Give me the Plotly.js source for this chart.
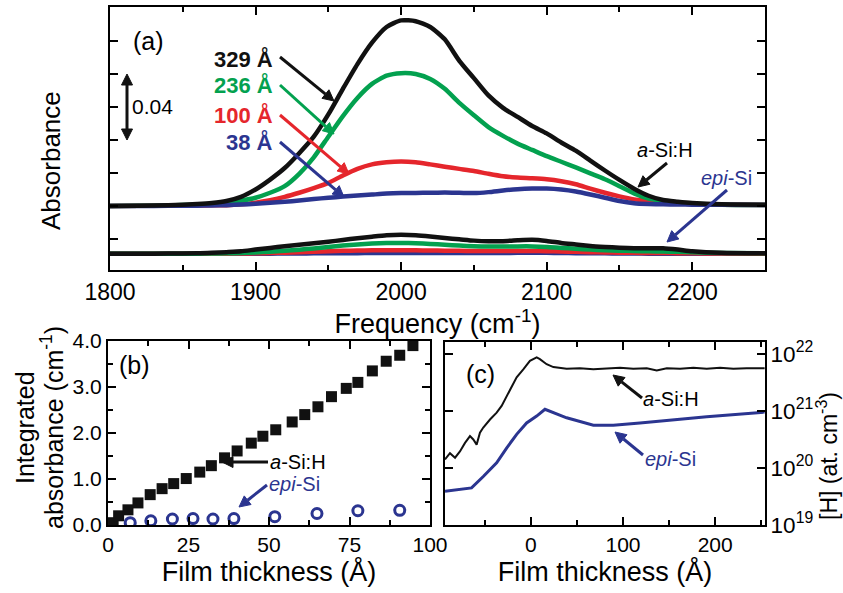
<!DOCTYPE html>
<html>
<head>
<meta charset="utf-8">
<script src="https://cdn.plot.ly/plotly-3.0.1.min.js"></script>
<style>html,body{margin:0;padding:0;background:#fff}#chart{width:843px;height:593px}</style>
</head>
<body>
<div id="chart"></div>
<script>
// ---------- Panel (a): IR absorbance spectra ----------
const freq = [1800,1820,1840,1860,1870,1880,1890,1900,1910,1920,1930,1940,1950,1960,1970,1980,1990,2000,2010,2020,2030,2040,2050,2060,2070,2080,2090,2100,2110,2120,2130,2140,2150,2160,2170,2180,2190,2200,2220,2250];
const thicknessLabels = ['329 Å','236 Å','100 Å','38 Å'];
// a-Si:H (upper set), absorbance above its baseline
const aSi329 = [0,0.0002,0.0005,0.0012,0.0018,0.0030,0.0055,0.0100,0.0160,0.0230,0.0320,0.0420,0.0555,0.0710,0.0860,0.0990,0.1085,0.1125,0.1120,0.1085,0.1010,0.0880,0.0775,0.0670,0.0595,0.0540,0.0485,0.0440,0.0385,0.0335,0.0275,0.0215,0.0158,0.0105,0.0062,0.0036,0.0026,0.0018,0.0010,0.0008];
const aSi236 = [0,0.0001,0.0003,0.0008,0.0012,0.0020,0.0032,0.0050,0.0080,0.0120,0.0195,0.0295,0.0420,0.0545,0.0655,0.0740,0.0790,0.0805,0.0800,0.0770,0.0710,0.0625,0.0550,0.0478,0.0425,0.0378,0.0340,0.0302,0.0268,0.0234,0.0198,0.0162,0.0120,0.0076,0.0045,0.0030,0.0020,0.0014,0.0008,0.0006];
const aSi100 = [0,0.0001,0.0002,0.0003,0.0004,0.0005,0.0010,0.0020,0.0035,0.0055,0.0080,0.0108,0.0140,0.0185,0.0225,0.0252,0.0265,0.0270,0.0265,0.0252,0.0238,0.0225,0.0212,0.0195,0.0180,0.0172,0.0168,0.0162,0.0150,0.0132,0.0105,0.0080,0.0058,0.0040,0.0030,0.0022,0.0016,0.0012,0.0008,0.0006];
const aSi38  = [0,0,0.0001,0.0002,0.0003,0.0005,0.0009,0.0013,0.0019,0.0025,0.0033,0.0042,0.0050,0.0057,0.0063,0.0069,0.0075,0.0078,0.0079,0.0080,0.0081,0.0080,0.0078,0.0084,0.0094,0.0102,0.0106,0.0106,0.0100,0.0088,0.0070,0.0050,0.0030,0.0017,0.0012,0.0010,0.0009,0.0008,0.0007,0.0006];
// epi-Si (lower set), absorbance above its baseline
const epi329 = [0,0,0.0002,0.0003,0.0006,0.0010,0.0015,0.0026,0.0036,0.0046,0.0055,0.0064,0.0073,0.0084,0.0095,0.0104,0.0112,0.0115,0.0112,0.0105,0.0096,0.0088,0.0080,0.0076,0.0077,0.0082,0.0085,0.0078,0.0066,0.0057,0.0048,0.0042,0.0037,0.0034,0.0034,0.0034,0.0026,0.0016,0.0006,0.0003];
const epi236 = [0,0,0,0.0001,0.0002,0.0003,0.0005,0.0008,0.0013,0.0018,0.0025,0.0033,0.0042,0.0050,0.0057,0.0062,0.0065,0.0066,0.0064,0.0060,0.0055,0.0050,0.0046,0.0044,0.0044,0.0045,0.0045,0.0042,0.0036,0.0031,0.0026,0.0022,0.0019,0.0017,0.0015,0.0014,0.0012,0.0009,0.0005,0.0003];
const epi100 = [0,0,0,0,0.0001,0.0001,0.0002,0.0003,0.0005,0.0007,0.0009,0.0012,0.0015,0.0018,0.0020,0.0021,0.0022,0.0022,0.0021,0.0020,0.0019,0.0018,0.0017,0.0017,0.0017,0.0017,0.0017,0.0016,0.0014,0.0012,0.0010,0.0008,0.0007,0.0006,0.0005,0.0005,0.0004,0.0003,0.0002,0.0001];
const epi38  = [0,0,0,0,0,0,0,0.0001,0.0001,0.0002,0.0002,0.0003,0.0003,0.0004,0.0004,0.0005,0.0005,0.0005,0.0005,0.0005,0.0005,0.0005,0.0005,0.0005,0.0005,0.0006,0.0006,0.0006,0.0005,0.0004,0.0003,0.0003,0.0002,0.0002,0.0001,0.0001,0.0001,0.0001,0,0];
const epiOffset = -0.029;   // vertical offset of the epi-Si set

// ---------- Panel (b): integrated absorbance ----------
const thickB_aSi = [1.6,3.3,6.2,9.3,13.1,16.8,20.4,24.3,28.5,32.1,36.2,40.1,44.5,48.1,52.1,57.2,61.1,65.2,69.4,74.0,77.6,82.1,86.4,90.6,94.7];
const intAbs_aSi = [0.05,0.20,0.33,0.48,0.66,0.79,0.90,1.01,1.15,1.29,1.46,1.61,1.78,1.93,2.07,2.24,2.40,2.57,2.79,2.97,3.10,3.35,3.56,3.69,3.90];
const thickB_epi = [6.9,13.3,20.0,26.4,32.6,39.1,51.8,64.9,77.6,90.6];
const intAbs_epi = [0.05,0.09,0.13,0.14,0.13,0.14,0.18,0.25,0.31,0.32];

// ---------- Panel (c): hydrogen depth profile ----------
const thickC_aSi = [-93,-87.6,-82.1,-76.8,-71.3,-65.9,-62.3,-58.7,-55.1,-51.5,-44.2,-37.0,-31.6,-26.2,-20.8,-15.3,-8.1,-0.9,6.4,9.9,17.2,24.5,38.9,53.3,67.9,82.3,96.8,111.2,125.8,136.6,147.5,161.9,176.3,190.8,205.3,219.7,234.1,253.6];
const logH_aSi = [20.15,20.26,20.18,20.29,20.44,20.56,20.50,20.41,20.62,20.71,20.85,20.97,21.09,21.26,21.44,21.59,21.73,21.88,21.94,21.91,21.82,21.77,21.74,21.75,21.73,21.74,21.76,21.74,21.75,21.71,21.75,21.74,21.76,21.74,21.76,21.74,21.75,21.75];
const thickC_epi = [-93,-64.2,-51.5,-37.0,-26.2,-15.3,-4.5,6.4,15.4,38.9,67.9,89.5,118.4,154.6,190.8,253.6];
const logH_epi = [19.59,19.65,19.85,20.09,20.35,20.59,20.79,20.91,21.03,20.88,20.75,20.75,20.79,20.85,20.90,20.98];

const C = {black:'#111111', green:'#03a14f', red:'#e5262c', blue:'#2b3590'};
const FONT = 'Liberation Sans, Arial, Helvetica, sans-serif';
const W = 843, H = 593;
const px = (x) => x / W, py = (y) => 1 - y / H;

const add = (arr, k) => arr.map(v => v + k);
const traces = [];
const lineA = (y, color, name) => ({x: freq, y: y, type:'scatter', mode:'lines', name: name,
  line:{color: color, width: 4.5, shape:'spline', smoothing:0.6}, xaxis:'x', yaxis:'y', showlegend:false, hoverinfo:'skip'});
// lower set (epi-Si)
traces.push(lineA(add(epi38, epiOffset), C.blue, 'epi-Si 38 Å'));
traces.push(lineA(add(epi100, epiOffset), C.red, 'epi-Si 100 Å'));
traces.push(lineA(add(epi236, epiOffset), C.green, 'epi-Si 236 Å'));
traces.push(lineA(add(epi329, epiOffset), C.black, 'epi-Si 329 Å'));
// upper set (a-Si:H)
traces.push(lineA(aSi100, C.red, 'a-Si:H 100 Å'));
traces.push(lineA(aSi236, C.green, 'a-Si:H 236 Å'));
traces.push(lineA(aSi38, C.blue, 'a-Si:H 38 Å'));
traces.push(lineA(aSi329, C.black, 'a-Si:H 329 Å'));

// panel (b)
traces.push({x: thickB_aSi, y: intAbs_aSi, type:'scatter', mode:'markers', xaxis:'x2', yaxis:'y2', showlegend:false,
  marker:{symbol:'square', size:11, color:C.black}, hoverinfo:'skip'});
traces.push({x: thickB_epi, y: intAbs_epi, type:'scatter', mode:'markers', xaxis:'x2', yaxis:'y2', showlegend:false,
  marker:{symbol:'circle-open', size:10, color:C.blue, line:{width:3, color:C.blue}}, hoverinfo:'skip'});

// panel (c)
traces.push({x: thickC_aSi, y: logH_aSi.map(v => Math.pow(10, v)), type:'scatter', mode:'lines', xaxis:'x3', yaxis:'y3', showlegend:false,
  line:{color:C.black, width:2}, hoverinfo:'skip'});
traces.push({x: thickC_epi, y: logH_epi.map(v => Math.pow(10, v)), type:'scatter', mode:'lines', xaxis:'x3', yaxis:'y3', showlegend:false,
  line:{color:C.blue, width:3}, hoverinfo:'skip'});

const axBase = (fs) => ({showline:true, linecolor:'#000', linewidth:2, mirror:'ticks', ticks:'inside', tickcolor:'#000', tickwidth:2,
  ticklen:8, showgrid:false, zeroline:false, tickfont:{family:FONT, size:fs, color:'#000'}, fixedrange:true});
const minorT = (d) => ({ticks:'inside', dtick:d, ticklen:5, tickwidth:2, tickcolor:'#000'});
const titleFont = {family:FONT, size:27, color:'#000'};

const layout = {
  width: W, height: H, margin:{l:0, r:0, t:0, b:0}, paper_bgcolor:'#fff', plot_bgcolor:'#fff',
  font:{family:FONT, color:'#000'},
  xaxis: Object.assign(axBase(23), {domain:[px(110), px(765)], range:[1800, 2250], dtick:100, tick0:1800, anchor:'y',
    minor:minorT(50), title:{text:'Frequency (cm<sup>-1</sup>)', font:titleFont, standoff:0}}),
  yaxis: Object.assign(axBase(23), {domain:[py(270), py(7)], range:[-0.0388, 0.1206], dtick:0.02, tick0:0, showticklabels:false, anchor:'x'}),
  xaxis2: Object.assign(axBase(21), {domain:[px(108), px(430)], range:[0, 100], dtick:25, tick0:0, anchor:'y2',
    minor:minorT(12.5), title:{text:'Film thickness (Å)', font:titleFont, standoff:3}}),
  yaxis2: Object.assign(axBase(21), {domain:[py(525), py(341)], range:[0, 4], dtick:1, tick0:0, tickformat:'.1f', anchor:'x2',
    minor:minorT(0.5)}),
  xaxis3: Object.assign(axBase(21), {domain:[px(445), px(765)], range:[-93, 254], dtick:100, tick0:0, anchor:'y3',
    minor:minorT(50), title:{text:'Film thickness (Å)', font:titleFont, standoff:3}}),
  yaxis3: Object.assign(axBase(18), {domain:[py(525), py(342)], type:'log', range:[19, 22.21], dtick:1, side:'right', anchor:'x3',
    exponentformat:'power'}),
  annotations: [],
  shapes: []
};

const A = layout.annotations, S = layout.shapes;
const label = (text, x, y, color, size, xanchor, textangle) => A.push({text:text, xref:'paper', yref:'paper', x:px(x), y:py(y),
  showarrow:false, xanchor:xanchor || 'left', yanchor:'middle', textangle: textangle || 0, borderpad:0,
  font:{family:FONT, size:size, color:color}});
// arrow drawn as a line shape plus a filled triangular head (pixel geometry converted to paper units)
const head = (hx, hy, tx, ty, color) => {
  const dx = tx - hx, dy = ty - hy, L = Math.hypot(dx, dy), ux = dx / L, uy = dy / L;
  const hl = 11, hw = 5.5;
  const bx = hx + ux * hl, by = hy + uy * hl;
  const p1 = [bx - uy * hw, by + ux * hw], p2 = [bx + uy * hw, by - ux * hw];
  S.push({type:'path', xref:'paper', yref:'paper', fillcolor:color, line:{color:color, width:1},
    path:`M ${px(hx)} ${py(hy)} L ${px(p1[0])} ${py(p1[1])} L ${px(p2[0])} ${py(p2[1])} Z`});
  return [bx, by];
};
const arrow = (hx, hy, tx, ty, color, both) => {
  const b = head(hx, hy, tx, ty, color);
  let t = [tx, ty];
  if (both) t = head(tx, ty, hx, hy, color);
  S.push({type:'line', xref:'paper', yref:'paper', x0:px(t[0]), y0:py(t[1]), x1:px(b[0]), y1:py(b[1]), line:{color:color, width:3}});
};

// panel (a)
label('Absorbance', 51, 161, '#000', 26, 'center', -90);
label('(a)', 132, 41, '#000', 25);
label('<b>' + thicknessLabels[0] + '</b>', 274, 59, C.black, 22, 'right');
label('<b>' + thicknessLabels[1] + '</b>', 274, 85, C.green, 22, 'right');
label('<b>' + thicknessLabels[2] + '</b>', 274, 115, C.red, 22, 'right');
label('<b>' + thicknessLabels[3] + '</b>', 274, 142, C.blue, 22, 'right');
arrow(334, 101, 280, 57, C.black);
arrow(334, 134, 280, 85, C.green);
arrow(349, 174, 280, 115, C.red);
arrow(344, 197, 280, 142, C.blue);
arrow(127, 74, 127, 140, C.black, true);
label('0.04', 131, 107, '#000', 21);
label('<i>a</i>-Si:H', 636, 150, '#000', 20);
arrow(638, 187, 667, 163, C.black);
label('<i>epi</i>-Si', 700, 178, C.blue, 20);
arrow(667, 242, 727, 190, C.blue);

// panel (b)
label('Integrated', 25, 428, '#000', 25, 'center', -90);
label('absorbance (cm<sup>-1</sup>)', 52, 428, '#000', 25, 'center', -90);
label('(b)', 118, 365, '#000', 25);
label('<i>a</i>-Si:H', 269, 462, '#000', 20);
arrow(222, 462, 268, 462, C.black);
label('<i>epi</i>-Si', 268, 484, C.blue, 20);
arrow(239, 507, 267, 485, C.blue);

// panel (c)
label('(c)', 465, 374, '#000', 25);
label('<i>a</i>-Si:H', 642, 399, '#000', 20);
arrow(613, 375, 642, 398, C.black);
label('<i>epi</i>-Si', 644, 459, C.blue, 20);
arrow(615, 432, 643, 455, C.blue);
label('[H] (at. cm<sup>-3</sup>)', 827, 456, '#000', 23, 'center', -90);

Plotly.newPlot('chart', traces, layout, {displayModeBar:false, staticPlot:true});
</script>
</body>
</html>
